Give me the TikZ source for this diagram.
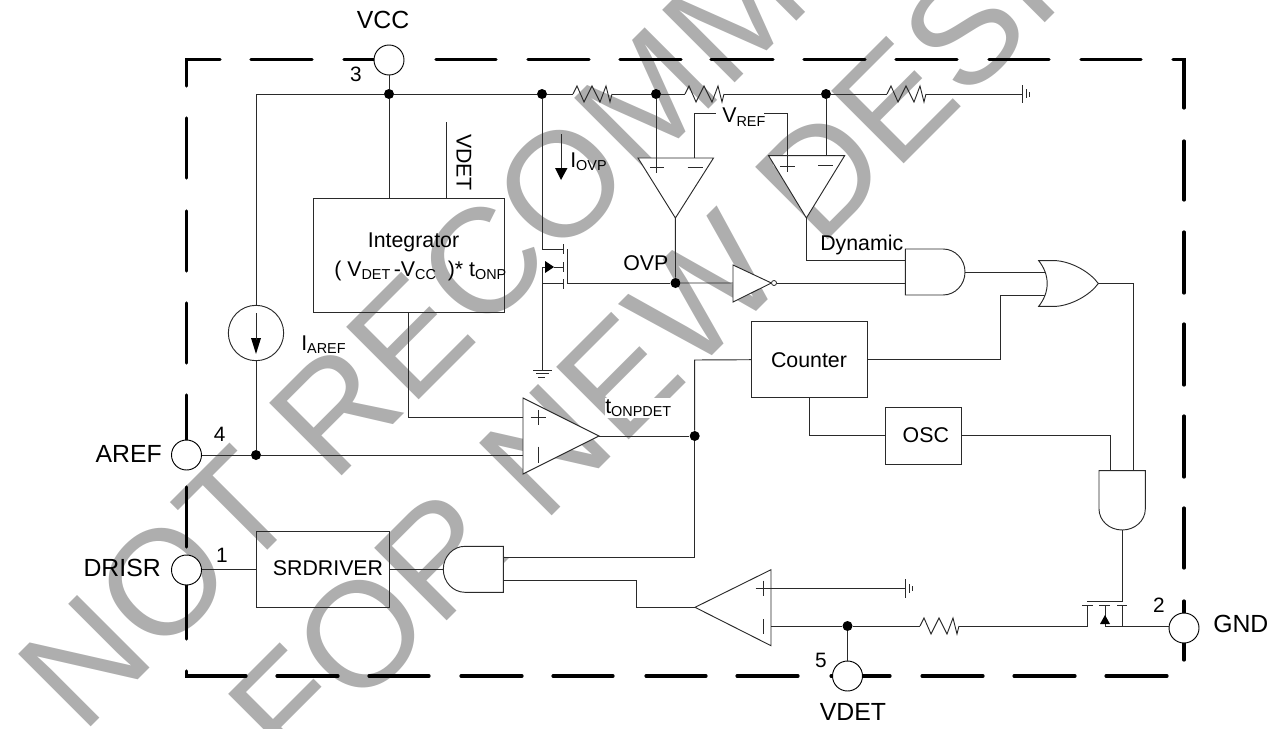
\documentclass[tikz,border=0pt]{standalone}
\usepackage{fontspec}
\setmainfont{Liberation Sans}
\definecolor{mark}{HTML}{AEAEAE}
\definecolor{ink}{HTML}{2A2A2A}
\newcommand\subt[1]{\raisebox{-2.6pt}{\fontsize{10.8}{11}\selectfont #1}}
\tikzset{
  wire/.style={draw=ink,line width=.7pt,line join=miter},
  outline/.style={draw=black,line width=2.4pt,line cap=round},
  dotj/.style={circle,fill=black,inner sep=0pt,minimum size=7.5pt},
  pin/.style={circle,draw=black,line width=.7pt,fill=white,inner sep=0pt,minimum size=22.5pt},
  block/.style={rectangle,draw=ink,line width=.7pt,inner sep=0pt},
  gate/.style={draw=ink,line width=.7pt,fill=white},
  ah/.style={fill=black,draw=none},
  ta/.style={inner sep=0pt,text=black,font=\fontsize{18.6}{20}\selectfont},
  tb/.style={inner sep=0pt,text=black,font=\fontsize{16}{18}\selectfont},
  tc/.style={inner sep=0pt,text=black,font=\fontsize{15.6}{18}\selectfont},
  resist/.pic={\draw[wire] (0,0)--(4,-8)--(11,8)--(19,-8)--(27,8)--(33,-8)--(37,8)--(39,0);},
}
\begin{document}
\begin{tikzpicture}[x=.75pt,y=-.75pt]
\useasboundingbox (0,0) rectangle (1280,728);
% watermark
\begin{scope}
\clip (0,0) rectangle (1280,728);
\node[anchor=base west,inner sep=0pt,rotate=45,text=mark,font=\fontsize{111.8}{120}\selectfont] (wm1) at (82,736) {NOT RECOMMENDED};
\node[anchor=base west,inner sep=0pt,rotate=45,text=mark,font=\fontsize{111.8}{120}\selectfont] (wm2) at (292,776) {FOR NEW DESIGNS};
\end{scope}
% package outline
\draw[outline] (220,59.5)--(186.5,59.5)--(186.5,86);
\draw[outline] (246,676)--(186.5,676)--(186.5,671);
\draw[outline] (1173,59.5)--(1184,59.5)--(1184,108);
\foreach \a/\b in {251/312,344/374,436/496,528/589,620/681,711/773,804/865,896/957,989/1049,1081/1141}
  \draw[outline] (\a,59.5)--(\b,59.5);
\foreach \a/\b in {277/338,369/429,461/522,553/613,646/706,737/798,831/890,922/983,1014/1075,1106/1167}
  \draw[outline] (\a,676)--(\b,676);
\foreach \a/\b in {118/178,211/271,303/363,395/455,487/547,579/639}
  \draw[outline] (186.5,\a)--(186.5,\b);
\foreach \a/\b in {141/200,232/293,324/385,416/477,508/568,601/660}
  \draw[outline] (1184,\a)--(1184,\b);
% pins
\node[pin] (vcc) at (389,60) {};
\node[pin] (aref) at (186.5,455) {};
\node[pin] (drisr) at (186.5,570) {};
\node[pin] (vdetp) at (847.5,676) {};
\node[pin] (gnd) at (1184,628) {};
% blocks
\node[block,minimum width=143.25pt,minimum height=85.5pt] (integ) at (408.5,255) {};
\node[block,minimum width=100pt,minimum height=57pt] (srd) at (322.7,569.3) {};
\node[block,minimum width=86.5pt,minimum height=57pt] (counter) at (809.3,359.7) {};
\node[block,minimum width=57.3pt,minimum height=42.5pt] (osc) at (923.5,435.7) {};
\node[circle,draw=ink,line width=.7pt,inner sep=0pt,minimum size=41.5pt] (isrc) at (256,333) {};
% junctions
\node[dotj] (jv) at (389,94) {};
\node[dotj] (jm) at (542,94) {};
\node[dotj] (j1) at (656,94) {};
\node[dotj] (j2) at (826,94) {};
\node[dotj] (ja) at (256,455) {};
\node[dotj] (jo) at (675.5,283) {};
\node[dotj] (jt) at (694.7,436) {};
\node[dotj] (jd) at (847.5,626) {};
% named points
\coordinate (rlc) at (256,94);
\coordinate (r1l) at (573,94); \coordinate (r1r) at (612,94);
\coordinate (r2l) at (685,94); \coordinate (r2r) at (724,94);
\coordinate (r3l) at (887,94); \coordinate (r3r) at (926,94);
\coordinate (rg) at (1022,94);
\coordinate (r4l) at (920,626); \coordinate (r4r) at (959,626);
\pic at (r1l) {resist}; \pic at (r2l) {resist}; \pic at (r3l) {resist}; \pic at (r4l) {resist};
% top rail
\draw[wire] (rlc)--(jv)--(jm)--(r1l) (r1r)--(j1)--(r2l) (r2r)--(j2)--(r3l) (r3r)--(rg);
\draw[wire] (1022,85)--(1022,103) (1026,89)--(1026,98) (1029,92)--(1029,97);
\draw[wire] (rlc)--(isrc.north) (isrc.south)--(ja);
\draw[ah] (251,338)--(261,338)--(256,354)--cycle;
\draw[wire] (256,313)--(256,340);
\draw[wire] (vcc)--(jv)--(389,198);
\draw[wire] (446.5,122)--(446.5,198);
\draw[wire] (aref)--(ja)--(523,455);
% upper NMOS
\coordinate (md) at (563,249); \coordinate (ms) at (563,283); \coordinate (mb) at (563,267);
\draw[wire] (jm)--(542,249)--(md);
\draw[wire] (542,267)--(545,267) (554,267)--(mb);
\draw[wire] (542,267)--(542,370) (542,283)--(ms);
\draw[wire] (563,244)--(563,254) (563,262)--(563,272) (563,279)--(563,289);
\draw[wire] (567,249)--(567,283)--(jo);
\draw[ah] (545,261)--(554,267)--(545,273)--cycle;
\draw[wire] (533,370)--(552,370) (536,373.5)--(549,373.5) (538,377)--(545,377);
% OVP arrow
\draw[wire] (561,134)--(561,170);
\draw[ah] (555,168)--(567.5,168)--(561,180)--cycle;
% comparator 1
\draw[gate] (638,158)--(713.5,158)--(675.4,218)--cycle;
\draw[wire] (j1)--(656,173) (650,167)--(664,167) (687.5,167)--(702.5,167);
% comparator 2
\draw[gate] (768.6,155.7)--(844.6,155.7)--(806.4,218)--cycle;
\draw[wire] (j2)--(826,155.7) (780,166)--(795,166) (787.5,160)--(787.5,172) (818,165)--(833,165);
\draw[wire] (694.6,158)--(694.6,113)--(716,113) (764,113)--(787.5,113)--(787.5,160);
% links to gates
\draw[wire] (675.4,218)--(jo)--(733,283);
\draw[wire] (806.4,218)--(806.4,260.7)--(905.4,260.7);
% inverter
\draw[gate] (733,265)--(771.4,283)--(733,302)--cycle;
\node[circle,draw=ink,line width=.6pt,fill=white,inner sep=0pt,minimum size=3.8pt] (invo) at (774,283) {};
\draw[wire] (invo)--(905.4,283);
% AND 1
\draw[gate] (905.4,249)--(943,249) .. controls (955.2,249) and (965,259.3) .. (965,272) .. controls (965,284.7) and (955.2,295) .. (943,295)--(905.4,295)--cycle;
% OR
\draw[wire] (965,272)--(1045,272) (counter.east)--(1000,359.7)--(1000,295)--(1045,295);
\draw[gate] (1038.7,260.7)--(1056.7,260.7) .. controls (1072,262) and (1090,272) .. (1098.3,283.5) .. controls (1090,295) and (1072,305) .. (1056.7,306.3)--(1038.7,306.3) .. controls (1050,292) and (1050,275) .. (1038.7,260.7)--cycle;
\draw[wire] (1098.3,283.5)--(1133.3,283.5)--(1133.3,470.7);
% main comparator
\coordinate (intb) at (408.5,312);
\draw[wire] (intb)--(408.5,417.2)--(523,417.2);
\draw[gate] (523,398)--(599,436)--(523,474)--cycle;
\draw[wire] (530.7,417.3)--(545.7,417.3) (538.3,410)--(538.3,425) (538.3,446.7)--(538.3,463.3);
\draw[wire] (599,436)--(jt)--(694.7,557.7)--(503.3,557.7);
\draw[wire] (jt)--(694.7,360)--(counter.west);
% counter to OSC
\draw[wire] (counter.south)--(809.3,435.7)--(osc.west);
\draw[wire] (osc.east)--(1110.3,435.7)--(1110.3,470.7);
% AND 2
\draw[gate] (1099,470.7)--(1145.3,470.7)--(1145.3,509) .. controls (1145.3,520.6) and (1135,530) .. (1122.2,530) .. controls (1109.4,530) and (1099,520.6) .. (1099,509)--cycle;
% lower NMOS
\draw[wire] (1122,530)--(1122,601)--(1087,601);
\draw[wire] (1082,605)--(1093,605) (1099,605)--(1110,605) (1117,605)--(1127,605);
\draw[wire] (1087.7,605)--(1087.7,626) (1105,605)--(1105,626) (1122.3,605)--(1122.3,626);
\draw[ah] (1100,624)--(1110,624)--(1105,615)--cycle;
\draw[wire] (jd)--(r4l) (r4r)--(1087.7,626);
\draw[wire] (1105,626)--(gnd.west |- jd);
\draw[wire] (jd)--(vdetp);
% comparator 3
\draw[gate] (771,569.7)--(695,607.3)--(771,645.7)--cycle;
\draw[wire] (755.7,588.3)--(905.7,588.3) (763.3,580.7)--(763.3,595.7) (763.3,619)--(763.3,634);
\draw[wire] (905.7,579)--(905.7,598) (909,584)--(909,593) (912.3,586)--(912.3,591);
\draw[wire] (771,626)--(jd);
\draw[wire] (695,607.3)--(636.7,607.3)--(636.7,580.3)--(503.3,580.3);
% AND 3
\draw[wire] (drisr.east |- srd.west)--(srd.west) (srd.east)--(443.3,569.3);
\draw[gate] (503.3,546.3)--(465,546.3) .. controls (453,546.3) and (443.3,556.6) .. (443.3,569.3) .. controls (443.3,582) and (453,592.3) .. (465,592.3)--(503.3,592.3)--cycle;
% labels
\node[ta] (lvcc) at (383,20) {VCC};
\node[ta,anchor=east] (laref) at (162,454) {AREF};
\node[ta,anchor=east] (ldrisr) at (161,568) {DRISR};
\node[ta,anchor=west] (lgnd) at (1213,624) {GND};
\node[ta] (lvdet) at (853,712) {VDET};
\node[tc] (n3) at (356,74) {3};
\node[tc] (n4) at (219.6,434) {4};
\node[tc] (n1) at (222,555) {1};
\node[tc] (n2) at (1159,605) {2};
\node[tc] (n5) at (821,660) {5};
\node[tb] (lint) at (413.5,242) {Integrator};
\node[tb,anchor=base west] (lint2) at (334,276) {( V\subt{DET}\,-V\subt{CC}\ \ )* t\subt{ONP}};
\node[tb,rotate=-90] (lvd) at (464,162.5) {VDET};
\node[tb,anchor=base west] (liovp) at (570,167) {I\subt{OVP}};
\node[tb,anchor=base west] (lvref) at (722,122.7) {V\subt{REF}};
\node[tb,anchor=base west] (lovp) at (623,270.7) {OVP};
\node[tb,anchor=base west] (ldyn) at (820,250) {Dynamic};
\node[tb,anchor=base west] (liaref) at (301,350) {I\subt{AREF}};
\node[tb,anchor=base west,fill=white,inner ysep=1pt] (lton) at (605,413.3) {t\subt{ONPDET}};
\node[tb] (lcnt) at (809,360) {Counter};
\node[tb] (losc) at (925.8,434.7) {OSC};
\node[tb] (lsrd) at (328,568) {SRDRIVER};
\end{tikzpicture}
\end{document}
